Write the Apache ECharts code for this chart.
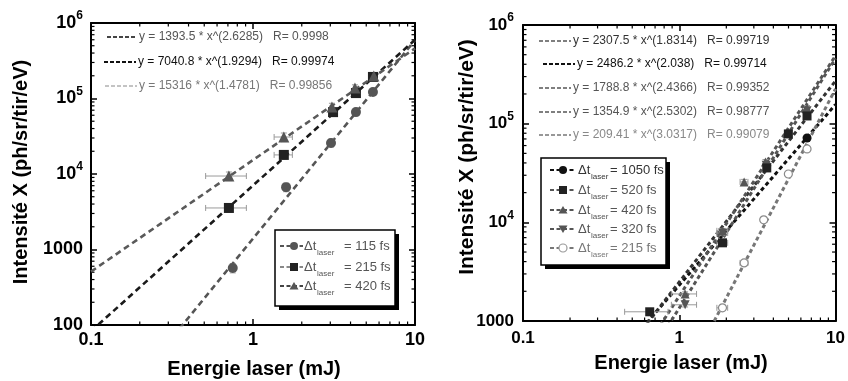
<!DOCTYPE html>
<html><head><meta charset="utf-8">
<script src="https://cdn.jsdelivr.net/npm/echarts@6/dist/echarts.min.js"></script>
<style>html,body{margin:0;padding:0;background:#fff}#c{width:848px;height:381px}</style>
</head><body><div id="c"></div>
<script>
// ---------------- DATA ----------------
const xTickValues = [0.1, 1, 10];
const leftYTickValues = [100, 1000, 10000, 100000, 1000000];
const rightYTickValues = [1000, 10000, 100000, 1000000];
const xAxisTitle = 'Energie laser (mJ)';
const yAxisTitle = 'Intensité X (ph/sr/tir/eV)';

// Left panel
const leftNames = ['115 fs', '215 fs', '420 fs'];
const left115X = [0.75, 1.6, 3.03, 4.32, 5.5];
const left115Y = [570, 6700, 25800, 66000, 122000];
const left115XErr = [0, 0, 0, 0, 0];
const left115YErr = [0.14, 0.13, 0.12, 0.1, 0.1];
const left215X = [0.71, 1.55, 3.12, 4.32, 5.5];
const left215Y = [3550, 17900, 66000, 118000, 193000];
const left215XErr = [0.2, 0.2, 0, 0, 0];
const left215YErr = [0.12, 0.12, 0.1, 0.1, 0.1];
const left420X = [0.71, 1.55, 3.07, 4.26, 5.57];
const left420Y = [9400, 30900, 77200, 138000, 199000];
const left420XErr = [0.2, 0.2, 0, 0, 0];
const left420YErr = [0.13, 0.13, 0.12, 0.1, 0.1];
const leftFitA = [1393.5, 7040.8, 15316];
const leftFitB = [2.6285, 1.9294, 1.4781];
const leftFitText = ['y = 1393.5 * x^(2.6285)   R= 0.9998', 'y = 7040.8 * x^(1.9294)   R= 0.99974', 'y = 15316 * x^(1.4781)   R= 0.99856'];

// Right panel
const rightNames = ['1050 fs', '520 fs', '420 fs', '320 fs', '215 fs'];
const right1050X = [6.57];
const right1050Y = [71600];
const right1050XErr = [0];
const right1050YErr = [0.06];
const right520X = [0.647, 1.89, 3.63, 4.99, 6.57];
const right520Y = [1240, 6200, 35600, 78700, 119700];
const right520XErr = [0.2, 0.15, 0, 0, 0];
const right520YErr = [0.05, 0.06, 0.06, 0.06, 0.06];
const right420X = [1.09, 1.89, 2.6, 3.56, 6.57];
const right420Y = [1880, 8200, 25700, 40900, 144000];
const right420XErr = [0.2, 0.15, 0.15, 0, 0];
const right420YErr = [0.05, 0.06, 0.06, 0.06, 0.06];
const right320X = [1.09, 1.89, 3.6, 6.57];
const right320Y = [1460, 7800, 38000, 135000];
const right320XErr = [0.2, 0.15, 0, 0];
const right320YErr = [0.05, 0.06, 0.06, 0.06];
const right215X = [1.89, 2.6, 3.47, 4.99, 6.57];
const right215Y = [1360, 3880, 10600, 30900, 55400];
const right215XErr = [0.15, 0.15, 0, 0, 0];
const right215YErr = [0.05, 0.06, 0.06, 0.06, 0.06];
const rightFitA = [2307.5, 2486.2, 1788.8, 1354.9, 209.41];
const rightFitB = [1.8314, 2.038, 2.4366, 2.5302, 3.0317];
const rightFitText = ['y = 2307.5 * x^(1.8314)   R= 0.99719', 'y = 2486.2 * x^(2.038)   R= 0.99714', 'y = 1788.8 * x^(2.4366)   R= 0.99352', 'y = 1354.9 * x^(2.5302)   R= 0.98777', 'y = 209.41 * x^(3.0317)   R= 0.99079'];

// ---------------- CHART ----------------
const FONT = "'Liberation Sans', Arial, Helvetica, sans-serif";
const chart = echarts.init(document.getElementById('c'), null, {renderer: 'canvas'});

const G = [
  {left: 91, top: 23, width: 324, height: 302, xMin: 0.1, xMax: 10, yMin: 100, yMax: 1e6, yTicks: leftYTickValues, lab: 17, xMargin: 6, yMargin: 8},
  {left: 523, top: 25, width: 318, height: 296, xMin: 0.1, xMax: 10, yMin: 1000, yMax: 1e6, yTicks: rightYTickValues, lab: 16, xMargin: 9, yMargin: 9}
];

function fmtX(v) { return String(Number(v.toPrecision(2))); }
function fmtY(v) {
  const e = Math.round(Math.log10(v));
  if (e >= 4) return '{b|10}{s|' + e + '}';
  return '{b|' + Math.round(Math.pow(10, e)) + '}';
}

const xAxes = [], yAxes = [];
G.forEach((g, gi) => {
  const line = {show: true, lineStyle: {color: '#000', width: 2}};
  const tick = {show: true, inside: true, length: 6, lineStyle: {color: '#000', width: 1.5}};
  xAxes.push({gridIndex: gi, type: 'log', logBase: 10, min: g.xMin, max: g.xMax, position: 'bottom',
    axisLine: line, axisTick: tick, splitLine: {show: false},
    axisLabel: {show: true, margin: g.xMargin, formatter: fmtX, color: '#000', fontWeight: 'bold', fontSize: g.lab + 1, fontFamily: FONT, showMinLabel: true, showMaxLabel: true, hideOverlap: false}});
  xAxes.push({gridIndex: gi, type: 'log', logBase: 10, min: g.xMin, max: g.xMax, position: 'top',
    axisLine: line, axisTick: tick, splitLine: {show: false}, axisLabel: {show: false}});
  yAxes.push({gridIndex: gi, type: 'log', logBase: 10, min: g.yMin, max: g.yMax, position: 'left',
    axisLine: line, axisTick: tick, splitLine: {show: false},
    axisLabel: {show: true, margin: g.yMargin, formatter: fmtY, showMinLabel: true, showMaxLabel: true, hideOverlap: false,
      rich: {
        b: {fontSize: g.lab + 1, fontWeight: 'bold', color: '#000', fontFamily: FONT, lineHeight: 26},
        s: {fontSize: 12, fontWeight: 'bold', color: '#000', fontFamily: FONT, verticalAlign: 'top', lineHeight: 14}
      }}});
  yAxes.push({gridIndex: gi, type: 'log', logBase: 10, min: g.yMin, max: g.yMax, position: 'right',
    axisLine: line, axisTick: tick, splitLine: {show: false}, axisLabel: {show: false}});
});

// minor ticks (2..9 within each decade), drawn through the axes' scales
function minorTickSeries(gi) {
  const g = G[gi];
  const data = [];
  for (let d = g.xMin; d < g.xMax * 0.999; d *= 10) for (let k = 2; k <= 9; k++) data.push([d * k, g.yMin, 0]);
  for (let d = g.yMin; d < g.yMax * 0.999; d *= 10) for (let k = 2; k <= 9; k++) data.push([g.xMin, d * k, 1]);
  return {
    type: 'custom', xAxisIndex: gi * 2, yAxisIndex: gi * 2, data: data, silent: true, z: 1, clip: false,
    encode: {x: 0, y: 1},
    renderItem: function (params, api) {
      const L = 3.5, st = {stroke: '#000', lineWidth: 1.2};
      if (api.value(2) === 0) {
        const a = api.coord([api.value(0), g.yMin]), b = api.coord([api.value(0), g.yMax]);
        return {type: 'group', children: [
          {type: 'line', shape: {x1: a[0], y1: a[1], x2: a[0], y2: a[1] - L}, style: st},
          {type: 'line', shape: {x1: b[0], y1: b[1], x2: b[0], y2: b[1] + L}, style: st}]};
      } else {
        const a = api.coord([g.xMin, api.value(1)]), b = api.coord([g.xMax, api.value(1)]);
        return {type: 'group', children: [
          {type: 'line', shape: {x1: a[0], y1: a[1], x2: a[0] + L, y2: a[1]}, style: st},
          {type: 'line', shape: {x1: b[0], y1: b[1], x2: b[0] - L, y2: b[1]}, style: st}]};
      }
    }
  };
}

function errorSeries(gi, xs, ys, xe, ye) {
  const data = xs.map((x, i) => [x, ys[i], x - xe[i], x + xe[i], ys[i] * (1 - ye[i]), ys[i] * (1 + ye[i])]);
  return {
    type: 'custom', xAxisIndex: gi * 2, yAxisIndex: gi * 2, data: data, silent: true, z: 3,
    encode: {x: 0, y: 1},
    renderItem: function (params, api) {
      const x = api.value(0), y = api.value(1);
      const st = {stroke: '#9a9a9a', lineWidth: 1};
      const ch = [];
      if (api.value(3) > api.value(2)) {
        const a = api.coord([api.value(2), y]), b = api.coord([api.value(3), y]);
        ch.push({type: 'line', shape: {x1: a[0], y1: a[1], x2: b[0], y2: b[1]}, style: st});
        ch.push({type: 'line', shape: {x1: a[0], y1: a[1] - 3, x2: a[0], y2: a[1] + 3}, style: st});
        ch.push({type: 'line', shape: {x1: b[0], y1: b[1] - 3, x2: b[0], y2: b[1] + 3}, style: st});
      }
      if (api.value(5) > api.value(4)) {
        const a = api.coord([x, api.value(4)]), b = api.coord([x, api.value(5)]);
        ch.push({type: 'line', shape: {x1: a[0], y1: a[1], x2: b[0], y2: b[1]}, style: st});
        ch.push({type: 'line', shape: {x1: a[0] - 3, y1: a[1], x2: a[0] + 3, y2: a[1]}, style: st});
        ch.push({type: 'line', shape: {x1: b[0] - 3, y1: b[1], x2: b[0] + 3, y2: b[1]}, style: st});
      }
      return {type: 'group', children: ch};
    }
  };
}

function scatterSeries(gi, name, xs, ys, symbol, color, opts) {
  opts = opts || {};
  return {
    type: 'scatter', name: name, xAxisIndex: gi * 2, yAxisIndex: gi * 2, z: 4,
    data: xs.map((x, i) => [x, ys[i]]), symbol: symbol, symbolSize: opts.size || 9,
    symbolRotate: opts.rotate || 0,
    itemStyle: {color: opts.fill || color, borderColor: color, borderWidth: opts.bw || 0, opacity: 1},
    emphasis: {disabled: true}
  };
}

function fitSeries(gi, a, b, color, width, dash) {
  const g = G[gi];
  const xs = [g.xMin, g.xMax];
  return {
    type: 'line', xAxisIndex: gi * 2, yAxisIndex: gi * 2, z: 2, clip: true, silent: true,
    data: xs.map(x => [x, a * Math.pow(x, b)]), symbol: 'none',
    lineStyle: {color: color, width: width, type: dash}, emphasis: {disabled: true}
  };
}

const series = [
  minorTickSeries(0), minorTickSeries(1),
  // left fits
  fitSeries(0, leftFitA[0], leftFitB[0], '#555', 2.6, [6, 4]),
  fitSeries(0, leftFitA[1], leftFitB[1], '#1a1a1a', 2.6, [6, 4]),
  fitSeries(0, leftFitA[2], leftFitB[2], '#5a5a5a', 2.6, [6, 4]),
  errorSeries(0, left115X, left115Y, left115XErr, left115YErr),
  errorSeries(0, left215X, left215Y, left215XErr, left215YErr),
  errorSeries(0, left420X, left420Y, left420XErr, left420YErr),
  scatterSeries(0, leftNames[0], left115X, left115Y, 'circle', '#555', {size: 10}),
  scatterSeries(0, leftNames[1], left215X, left215Y, 'rect', '#222', {size: 10}),
  scatterSeries(0, leftNames[2], left420X, left420Y, 'triangle', '#555', {size: 11}),
  // right fits
  fitSeries(1, rightFitA[0], rightFitB[0], '#111', 3, [4, 3]),
  fitSeries(1, rightFitA[1], rightFitB[1], '#333', 3, [4, 3]),
  fitSeries(1, rightFitA[2], rightFitB[2], '#555', 3, [4, 3]),
  fitSeries(1, rightFitA[3], rightFitB[3], '#555', 3, [4, 3]),
  fitSeries(1, rightFitA[4], rightFitB[4], '#777', 3, [4, 3]),
  errorSeries(1, right1050X, right1050Y, right1050XErr, right1050YErr),
  errorSeries(1, right520X, right520Y, right520XErr, right520YErr),
  errorSeries(1, right420X, right420Y, right420XErr, right420YErr),
  errorSeries(1, right320X, right320Y, right320XErr, right320YErr),
  errorSeries(1, right215X, right215Y, right215XErr, right215YErr),
  scatterSeries(1, rightNames[4], right215X, right215Y, 'circle', '#8a8a8a', {size: 8, fill: '#fff', bw: 1.2}),
  scatterSeries(1, rightNames[3], right320X, right320Y, 'triangle', '#555', {size: 9, rotate: 180}),
  scatterSeries(1, rightNames[2], right420X, right420Y, 'triangle', '#555', {size: 9}),
  scatterSeries(1, rightNames[1], right520X, right520Y, 'rect', '#222', {size: 9}),
  scatterSeries(1, rightNames[0], right1050X, right1050Y, 'circle', '#111', {size: 9})
];

// ---------------- GRAPHIC (titles, fit labels, legends) ----------------
function txt(x, y, text, font, fill, align, rot) {
  return {type: 'text', x: x, y: y, rotation: rot || 0, silent: true,
    style: {text: text, font: font, fill: fill, align: align || 'left', textAlign: align || 'left', verticalAlign: 'middle', textVerticalAlign: 'middle'}};
}
function dashLine(x1, x2, y, color, w, dash) {
  return {type: 'line', silent: true, shape: {x1: x1, y1: y, x2: x2, y2: y}, style: {stroke: color, lineWidth: w, lineDash: dash}};
}
function marker(kind, cx, cy, color, fill) {
  const st = {fill: fill || color, stroke: color, lineWidth: fill ? 1.2 : 0};
  if (kind === 'circle') return {type: 'circle', silent: true, shape: {cx: cx, cy: cy, r: 4}, style: st};
  if (kind === 'rect') return {type: 'rect', silent: true, shape: {x: cx - 4, y: cy - 4, width: 8, height: 8}, style: st};
  if (kind === 'tri') return {type: 'polygon', silent: true, shape: {points: [[cx, cy - 4], [cx + 4.5, cy + 3.5], [cx - 4.5, cy + 3.5]]}, style: st};
  return {type: 'polygon', silent: true, shape: {points: [[cx, cy + 4], [cx + 4.5, cy - 3.5], [cx - 4.5, cy - 3.5]]}, style: st};
}

const graphics = [];
// axis titles
graphics.push(txt(21, 172, yAxisTitle, 'bold 20px ' + FONT, '#000', 'center', Math.PI / 2));
graphics.push(txt(467, 157, yAxisTitle, 'bold 21px ' + FONT, '#000', 'center', Math.PI / 2));
graphics.push(txt(254, 369, xAxisTitle, 'bold 20px ' + FONT, '#000', 'center'));
graphics.push(txt(681, 363, xAxisTitle, 'bold 20px ' + FONT, '#000', 'center'));

// fit equation labels (left)
const leftFitRows = [
  {y: 37, x0: 107, x1: 137, lc: '#444', lw: 2, tc: '#555'},
  {y: 62, x0: 104, x1: 136, lc: '#111', lw: 2.2, tc: '#111'},
  {y: 86, x0: 105, x1: 137, lc: '#888', lw: 1, tc: '#777'}
];
leftFitRows.forEach((r, i) => {
  graphics.push(dashLine(r.x0, r.x1, r.y, r.lc, r.lw, [4, 2]));
  graphics.push(txt(r.x1 + 2, r.y, leftFitText[i], '12px ' + FONT, r.tc));
});
const rightFitRows = [
  {y: 41, x0: 539, x1: 571, lc: '#555', lw: 1.5, tc: '#333'},
  {y: 64, x0: 543, x1: 575, lc: '#111', lw: 2, tc: '#111'},
  {y: 88, x0: 539, x1: 571, lc: '#555', lw: 1.5, tc: '#555'},
  {y: 112, x0: 539, x1: 571, lc: '#555', lw: 1.5, tc: '#555'},
  {y: 135, x0: 539, x1: 571, lc: '#777', lw: 1.5, tc: '#888'}
];
rightFitRows.forEach((r, i) => {
  graphics.push(dashLine(r.x0, r.x1, r.y, r.lc, r.lw, [4, 2]));
  graphics.push(txt(r.x1 + 2, r.y, rightFitText[i], '12px ' + FONT, r.tc));
});

// legends
function legend(box, rows, fs) {
  graphics.push({type: 'rect', silent: true, shape: {x: box.x + 4, y: box.y + 4, width: box.w, height: box.h}, style: {fill: '#000'}});
  graphics.push({type: 'rect', silent: true, shape: {x: box.x, y: box.y, width: box.w, height: box.h}, style: {fill: '#fff', stroke: '#000', lineWidth: 1.5}});
  rows.forEach(r => {
    graphics.push(dashLine(box.x + box.lx0, box.x + box.lx1, r.y, r.lc, 2, [4, 2.5]));
    graphics.push(marker(r.kind, box.x + box.mx, r.y, r.mc, r.fill));
    graphics.push(txt(box.x + box.tx, r.y, 'Δt', fs + 'px ' + FONT, r.tc));
    graphics.push(txt(box.x + box.tx + 13, r.y + 7, 'laser', '8px ' + FONT, r.tc));
    graphics.push(txt(box.x + box.tx + box.eq, r.y, '= ' + r.name, fs + 'px ' + FONT, r.tc));
  });
}
legend({x: 275, y: 230, w: 120, h: 76, lx0: 5, lx1: 28, mx: 19, tx: 29, eq: 40},
  [
    {y: 246, name: leftNames[0], kind: 'circle', mc: '#555', lc: '#555', tc: '#555'},
    {y: 267, name: leftNames[1], kind: 'rect', mc: '#222', lc: '#888', tc: '#555'},
    {y: 286, name: leftNames[2], kind: 'tri', mc: '#555', lc: '#444', tc: '#555'}
  ], 13);
legend({x: 541, y: 158, w: 125, h: 107, lx0: 9, lx1: 34, mx: 22, tx: 37, eq: 32},
  [
    {y: 170, name: rightNames[0], kind: 'circle', mc: '#111', lc: '#111', tc: '#333'},
    {y: 190, name: rightNames[1], kind: 'rect', mc: '#222', lc: '#555', tc: '#555'},
    {y: 210, name: rightNames[2], kind: 'tri', mc: '#555', lc: '#555', tc: '#555'},
    {y: 229, name: rightNames[3], kind: 'dtri', mc: '#555', lc: '#555', tc: '#555'},
    {y: 248, name: rightNames[4], kind: 'circle', mc: '#999', fill: '#fff', lc: '#777', tc: '#777'}
  ], 13);

chart.setOption({
  backgroundColor: '#fff',
  animation: false,
  grid: G.map(g => ({left: g.left, top: g.top, width: g.width, height: g.height, containLabel: false})),
  xAxis: xAxes,
  yAxis: yAxes,
  series: series,
  graphic: graphics
});
</script>
</body></html>
